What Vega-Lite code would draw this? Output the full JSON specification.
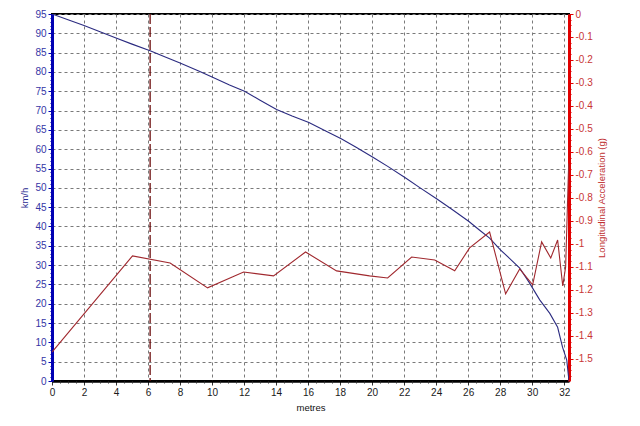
{
  "$schema": "https://vega.github.io/schema/vega-lite/v6.json",
  "width": 517,
  "height": 367,
  "autosize": "none",
  "padding": {"left": 52, "top": 14, "right": 71, "bottom": 45},
  "background": "white",
  "view": {"stroke": "#000000", "strokeWidth": 2},
  "config": {
    "font": "Liberation Sans",
    "axis": {
      "labelFont": "Liberation Sans",
      "titleFont": "Liberation Sans",
      "labelFontSize": 10,
      "titleFontSize": 9.5,
      "titleFontWeight": "normal",
      "gridColor": "#7a7a7a",
      "gridDash": [3, 3],
      "gridWidth": 1,
      "labelOverlap": false
    }
  },
  "datasets": {
    "speed": [
      {"metres": 0, "kmh": 95},
      {"metres": 1, "kmh": 93.5},
      {"metres": 2, "kmh": 92},
      {"metres": 3, "kmh": 90.4},
      {"metres": 4, "kmh": 88.8},
      {"metres": 5, "kmh": 87.2},
      {"metres": 6.13, "kmh": 85.5},
      {"metres": 7, "kmh": 84.0},
      {"metres": 8, "kmh": 82.3},
      {"metres": 9.2, "kmh": 80.2},
      {"metres": 10, "kmh": 78.7},
      {"metres": 11.09, "kmh": 76.6},
      {"metres": 12.03, "kmh": 75.0},
      {"metres": 13, "kmh": 72.7},
      {"metres": 14.03, "kmh": 70.3},
      {"metres": 15, "kmh": 68.6},
      {"metres": 16.05, "kmh": 66.9},
      {"metres": 17.1, "kmh": 64.7},
      {"metres": 18.07, "kmh": 62.7},
      {"metres": 19, "kmh": 60.5},
      {"metres": 20.1, "kmh": 57.8},
      {"metres": 21, "kmh": 55.5},
      {"metres": 22.07, "kmh": 52.6},
      {"metres": 23, "kmh": 50.0},
      {"metres": 24.05, "kmh": 47.1},
      {"metres": 25, "kmh": 44.4},
      {"metres": 26.05, "kmh": 41.3},
      {"metres": 26.7, "kmh": 39.1},
      {"metres": 27.34, "kmh": 37.0},
      {"metres": 28, "kmh": 34.0},
      {"metres": 28.6, "kmh": 31.7},
      {"metres": 29.22, "kmh": 29.2},
      {"metres": 29.8, "kmh": 25.6},
      {"metres": 30.47, "kmh": 21.0},
      {"metres": 31.1, "kmh": 17.5},
      {"metres": 31.59, "kmh": 13.9},
      {"metres": 31.9, "kmh": 8.7},
      {"metres": 32.16, "kmh": 5.4},
      {"metres": 32.28, "kmh": 0.7},
      {"metres": 32.3, "kmh": 0}
    ],
    "accel": [
      {"metres": 0, "g": -1.47},
      {"metres": 5.03, "g": -1.052},
      {"metres": 7.38, "g": -1.083},
      {"metres": 9.72, "g": -1.191},
      {"metres": 11.97, "g": -1.122},
      {"metres": 13.84, "g": -1.139},
      {"metres": 15.84, "g": -1.035},
      {"metres": 17.78, "g": -1.117},
      {"metres": 19.84, "g": -1.139},
      {"metres": 20.97, "g": -1.148},
      {"metres": 22.47, "g": -1.057},
      {"metres": 23.91, "g": -1.07},
      {"metres": 25.16, "g": -1.117},
      {"metres": 26.09, "g": -1.017},
      {"metres": 27.34, "g": -0.948},
      {"metres": 28.34, "g": -1.217},
      {"metres": 29.22, "g": -1.109},
      {"metres": 30.03, "g": -1.178},
      {"metres": 30.59, "g": -0.991},
      {"metres": 31.16, "g": -1.061},
      {"metres": 31.59, "g": -0.983},
      {"metres": 31.91, "g": -1.183},
      {"metres": 32.09, "g": -1.1},
      {"metres": 32.28, "g": -0.65}
    ],
    "marker": [
      {"metres": 6.13}
    ]
  },
  "layer": [
    {
      "data": {"name": "speed"},
      "mark": {"type": "line", "color": "#2b2b80", "strokeWidth": 1.1, "clip": true},
      "encoding": {
        "x": {
          "field": "metres",
          "type": "quantitative",
          "scale": {"domain": [0, 32.3], "nice": false, "zero": false},
          "axis": {
            "orient": "bottom",
            "title": "metres",
            "titleColor": "#111111",
            "titlePadding": 5,
            "values": [0,2,4,6,8,10,12,14,16,18,20,22,24,26,28,30,32],
            "format": "d",
            "labelColor": "#1a1a1a",
            "labelPadding": 2,
            "labelFlush": false,
            "labelOverlap": false,
            "domainColor": "#000000",
            "domainWidth": 2.5,
            "tickColor": "#333333",
            "tickSize": 4,
            "grid": true
          }
        },
        "y": {
          "field": "kmh",
          "type": "quantitative",
          "scale": {"domain": [0, 95], "nice": false},
          "axis": {
            "orient": "left",
            "title": "km/h",
            "titleColor": "#2a2a90",
            "titlePadding": 5,
            "values": [0,1,2,3,4,5,6,7,8,9,10,11,12,13,14,15,16,17,18,19,20,21,22,23,24,25,26,27,28,29,30,31,32,33,34,35,36,37,38,39,40,41,42,43,44,45,46,47,48,49,50,51,52,53,54,55,56,57,58,59,60,61,62,63,64,65,66,67,68,69,70,71,72,73,74,75,76,77,78,79,80,81,82,83,84,85,86,87,88,89,90,91,92,93,94,95],
            "labelExpr": "datum.value % 5 == 0 ? format(datum.value, 'd') : ''",
            "labelColor": "#3535a5",
            "labelPadding": 2,
            "labelFlush": false,
            "labelOverlap": false,
            "domainColor": "#0000b4",
            "domainWidth": 3,
            "tickColor": "#0000b4",
            "tickSize": {"condition": {"test": "datum.value % 5 == 0", "value": 4}, "value": 2},
            "grid": true,
            "gridOpacity": {"condition": {"test": "datum.value % 5 == 0", "value": 1}, "value": 0}
          }
        }
      }
    },
    {
      "data": {"name": "accel"},
      "mark": {"type": "line", "color": "#a0282e", "strokeWidth": 1.1, "clip": true},
      "encoding": {
        "x": {
          "field": "metres",
          "type": "quantitative",
          "axis": {
            "orient": "bottom",
            "title": null,
            "values": [0.5,1,1.5,2.5,3,3.5,4.5,5,5.5,6.5,7,7.5,8.5,9,9.5,10.5,11,11.5,12.5,13,13.5,14.5,15,15.5,16.5,17,17.5,18.5,19,19.5,20.5,21,21.5,22.5,23,23.5,24.5,25,25.5,26.5,27,27.5,28.5,29,29.5,30.5,31,31.5],
            "labels": false,
            "domain": false,
            "grid": false,
            "tickColor": "#333333",
            "tickSize": 2
          }
        },
        "y": {
          "field": "g",
          "type": "quantitative",
          "scale": {"domain": [-1.596, 0], "nice": false, "zero": false},
          "axis": {
            "orient": "right",
            "title": "Longitudinal Acceleration (g)",
            "titleColor": "#c03030",
            "titleAngle": 270,
            "titleBaseline": "top",
            "titlePadding": 4,
            "values": [0,-0.025,-0.05,-0.075,-0.1,-0.125,-0.15,-0.175,-0.2,-0.225,-0.25,-0.275,-0.3,-0.325,-0.35,-0.375,-0.4,-0.425,-0.45,-0.475,-0.5,-0.525,-0.55,-0.575,-0.6,-0.625,-0.65,-0.675,-0.7,-0.725,-0.75,-0.775,-0.8,-0.825,-0.85,-0.875,-0.9,-0.925,-0.95,-0.975,-1,-1.025,-1.05,-1.075,-1.1,-1.125,-1.15,-1.175,-1.2,-1.225,-1.25,-1.275,-1.3,-1.325,-1.35,-1.375,-1.4,-1.425,-1.45,-1.475,-1.5,-1.525,-1.55,-1.575],
            "labelExpr": "abs(datum.value * 10 - round(datum.value * 10)) < 0.001 ? (datum.value == 0 ? '0' : '-' + format(-datum.value, '.1~f')) : ''",
            "labelColor": "#c83535",
            "labelPadding": 2,
            "labelFlush": false,
            "labelOverlap": false,
            "domainColor": "#e00000",
            "domainWidth": 3,
            "tickColor": "#e00000",
            "tickSize": {"condition": {"test": "abs(datum.value * 10 - round(datum.value * 10)) < 0.001", "value": 4}, "value": 2},
            "grid": false
          }
        }
      }
    },
    {
      "data": {"name": "marker"},
      "mark": {"type": "rule", "color": "#6a0a0a", "strokeWidth": 1.3, "strokeDash": [10, 3]},
      "encoding": {
        "x": {"field": "metres", "type": "quantitative", "axis": null}
      }
    }
  ],
  "resolve": {"scale": {"y": "independent"}, "axis": {"y": "independent", "x": "independent"}}
}
